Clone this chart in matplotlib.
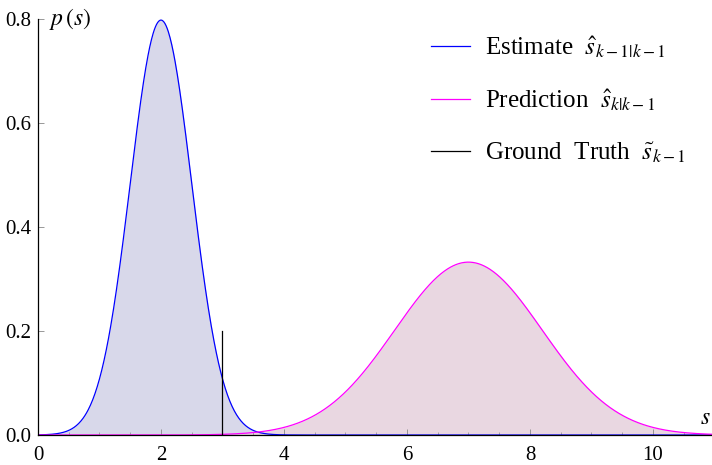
import numpy as np
import matplotlib
matplotlib.use("Agg")
import matplotlib.pyplot as plt
from matplotlib.ticker import MultipleLocator

plt.rcParams['font.family'] = ['Liberation Serif', 'DejaVu Serif']
plt.rcParams['mathtext.fontset'] = 'stix'

# Gaussian density parameters
series_names = ["Estimate  $\\hat{s}_{k-1|k-1}$", "Prediction  $\\hat{s}_{k|k-1}$"]
means = [2.0, 7.0]
sigmas = [0.5, 1.2]
line_colors = ["#0000ff", "#ff00ff"]
fill_colors = ["#d8d8ea", "#e9d7e1"]

truth_x = 3.0
truth_height = 0.2
truth_name = "Ground  Truth  $\\tilde{s}_{k-1}$"

x_ticks = [0, 2, 4, 6, 8, 10]
y_ticks = [0.0, 0.2, 0.4, 0.6, 0.8]

fig = plt.figure(figsize=(7.12, 4.65), dpi=100)
ax = fig.add_axes([38/712, 30/465, 1 - 38/712, (435-19)/465])

xs = np.linspace(0, 11, 1200)
handles = []
for name, m, s, lc, fc in zip(series_names, means, sigmas, line_colors, fill_colors):
    ys = np.exp(-0.5 * ((xs - m) / s) ** 2) / (s * np.sqrt(2 * np.pi))
    ax.fill_between(xs, 0, ys, color=fc, lw=0, zorder=1)
    h, = ax.plot(xs, ys, color=lc, lw=0.9, label=name, zorder=3)
    handles.append(h)

h, = ax.plot([truth_x, truth_x], [0, truth_height], color='black', lw=0.9, label=truth_name, zorder=4)
handles.append(h)

ax.set_xlim(0, 10.96)
ax.set_ylim(0, 0.8)
ax.set_xticks(x_ticks)
ax.set_xticklabels([str(t) for t in x_ticks])
ax.set_yticks(y_ticks)
ax.set_yticklabels([f"{t:.1f}" for t in y_ticks])
ax.xaxis.set_minor_locator(MultipleLocator(0.5))

for sp in ['top', 'right']:
    ax.spines[sp].set_visible(False)
for sp in ['left', 'bottom']:
    ax.spines[sp].set_linewidth(0.9)
    ax.spines[sp].set_zorder(5)

ax.tick_params(axis='both', which='major', direction='in', length=4, width=0.6,
               color='#888888', labelsize=15, pad=5)
ax.tick_params(axis='x', which='minor', direction='in', length=2.5, width=0.5, color='#888888')
ax.tick_params(axis='x', pad=8)

ax.text(0.18, 0.8, "$p\\,(s)$", fontsize=17, ha='left', va='center')
ax.text(10.93, 0.012, "$s$", fontsize=17, ha='right', va='bottom')

leg = ax.legend(handles=handles, loc='upper left', bbox_to_anchor=(383/674, 0.987),
                frameon=False, fontsize=18, handlelength=1.55, handletextpad=0.6,
                labelspacing=1.08, borderaxespad=0.0)

fig.savefig("out.png", dpi=100)
